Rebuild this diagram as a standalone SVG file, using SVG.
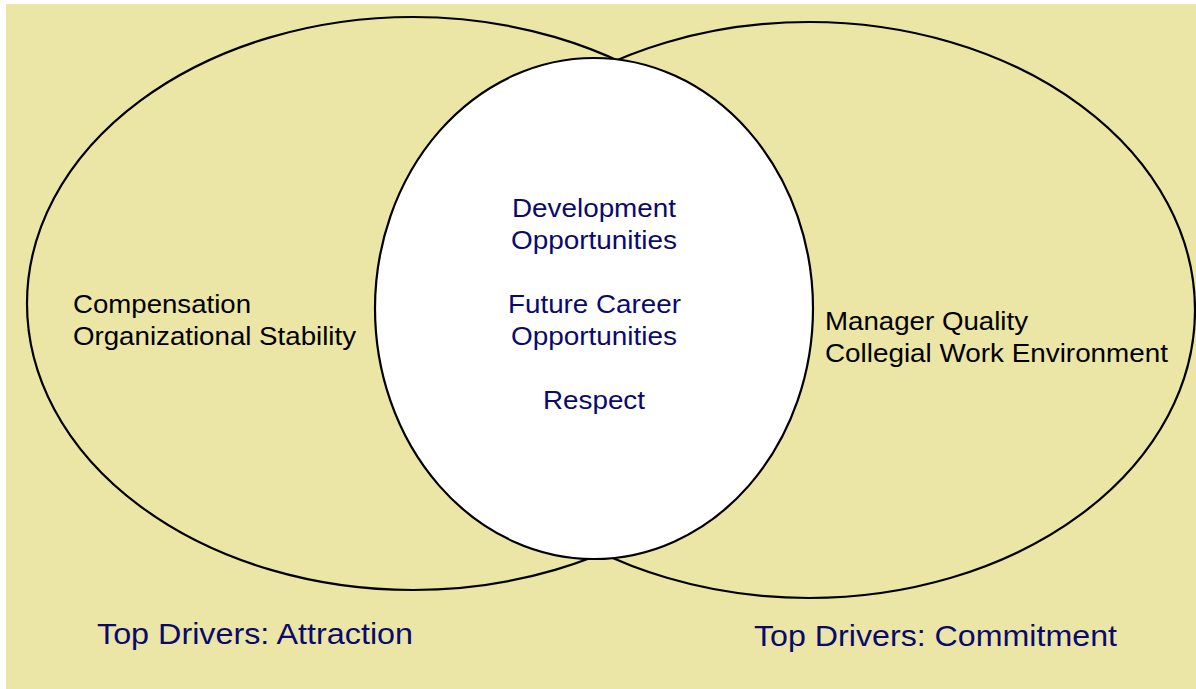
<svg xmlns="http://www.w3.org/2000/svg" width="1196" height="689" viewBox="0 0 1196 689">
<style>
.ring{fill:none;stroke:#000;stroke-width:2.2}
.t{font-family:"Liberation Sans",Arial,sans-serif;font-size:25.5px;fill:#000}
.c{font-family:"Liberation Sans",Arial,sans-serif;font-size:25.5px;fill:#0a0a6e;text-anchor:middle}
.b{font-family:"Liberation Sans",Arial,sans-serif;font-size:30px;fill:#0a0a6e}
</style>
<rect x="0" y="0" width="1196" height="689" fill="#fff"/>
<rect x="6" y="4" width="1190" height="685" fill="#EBE6A5"/>
<g id="attraction">
<ellipse class="ring" cx="413" cy="303.5" rx="386" ry="286.5"/>
<text class="t" x="73" y="313" textLength="178" lengthAdjust="spacingAndGlyphs">Compensation</text>
<text class="t" x="73" y="345" textLength="283" lengthAdjust="spacingAndGlyphs">Organizational Stability</text>
</g>
<g id="commitment">
<ellipse class="ring" cx="809" cy="310" rx="386" ry="288"/>
<text class="t" x="825" y="330" textLength="203" lengthAdjust="spacingAndGlyphs">Manager Quality</text>
<text class="t" x="825" y="362" textLength="343" lengthAdjust="spacingAndGlyphs">Collegial Work Environment</text>
</g>
<g id="overlap">
<ellipse cx="594" cy="308.5" rx="219" ry="250.5" fill="#fff" stroke="#000" stroke-width="2.2"/>
<text class="c" x="594" y="217" textLength="164" lengthAdjust="spacingAndGlyphs">Development</text>
<text class="c" x="594" y="249" textLength="166" lengthAdjust="spacingAndGlyphs">Opportunities</text>
<text class="c" x="594.5" y="313" textLength="173" lengthAdjust="spacingAndGlyphs">Future Career</text>
<text class="c" x="594" y="345" textLength="166" lengthAdjust="spacingAndGlyphs">Opportunities</text>
<text class="c" x="594" y="409" textLength="102" lengthAdjust="spacingAndGlyphs">Respect</text>
</g>
<g id="labels">
<text class="b" x="97" y="644" textLength="316" lengthAdjust="spacingAndGlyphs">Top Drivers: Attraction</text>
<text class="b" x="754" y="646" textLength="363" lengthAdjust="spacingAndGlyphs">Top Drivers: Commitment</text>
</g>
<g id="connectors"/>
</svg>
